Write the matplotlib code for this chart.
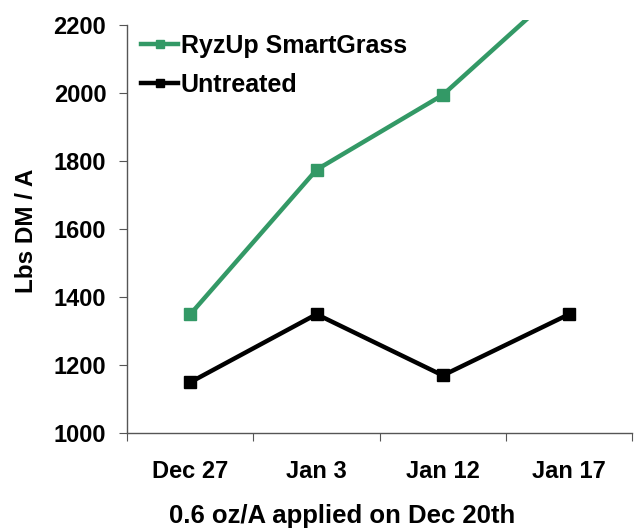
import matplotlib.pyplot as plt
import numpy as np

# Data
dates = ['Dec 27', 'Jan 3', 'Jan 12', 'Jan 17']
ryzup = [1350, 1775, 1995, 2330]
untreated = [1150, 1350, 1170, 1350]

plt.rcParams['font.family'] = ['Liberation Sans', 'DejaVu Sans']
plt.rcParams['font.weight'] = 'bold'

fig = plt.figure(figsize=(6.36, 5.29), dpi=100)
ax = fig.add_axes([0.2, 0.181, 0.794, 0.781])

x = np.arange(len(dates))
ax.plot(x, ryzup, color='#339966', lw=3.2, marker='s', ms=8,
        label='RyzUp SmartGrass')
ax.plot(x, untreated, color='black', lw=3.2, marker='s', ms=8,
        label='Untreated')

ax.set_xlim(-0.5, len(dates) - 0.5)
ax.set_ylim(1000, 2215)
ax.set_yticks(np.arange(1000, 2201, 200))
ax.spines['left'].set_bounds(1000, 2200)
ax.spines['top'].set_visible(False)
ax.spines['right'].set_visible(False)
for s in ['left', 'bottom']:
    ax.spines[s].set_color('#555555')
    ax.spines[s].set_linewidth(1)

# category boundaries as major ticks, labels on minor ticks
ax.set_xticks(np.arange(-0.5, len(dates), 1.0))
ax.set_xticklabels([])
ax.set_xticks(x, minor=True)
ax.set_xticklabels(dates, minor=True, fontsize=17, fontweight='bold')
ax.tick_params(axis='x', which='major', length=6, color='#555555')
ax.tick_params(axis='x', which='minor', length=0, pad=19)
ax.tick_params(axis='y', length=6, color='#555555', labelsize=17, pad=9)
for lab in ax.get_yticklabels():
    lab.set_fontweight('bold')

ax.set_ylabel('Lbs DM / A', fontsize=17.5, fontweight='bold')
ax.yaxis.set_label_coords(-0.176, 0.49)
ax.set_xlabel('0.6 oz/A applied on Dec 20th', fontsize=18.5,
              fontweight='bold')
ax.xaxis.set_label_coords(0.426, -0.172)

ax.legend(loc='upper left', frameon=False, handlelength=1.5,
          handletextpad=0.1, borderaxespad=0.3, labelspacing=0.6,
          borderpad=0.25, markerscale=0.75,
          prop={'weight': 'bold', 'size': 18})

fig.savefig('out.png', dpi=100)
